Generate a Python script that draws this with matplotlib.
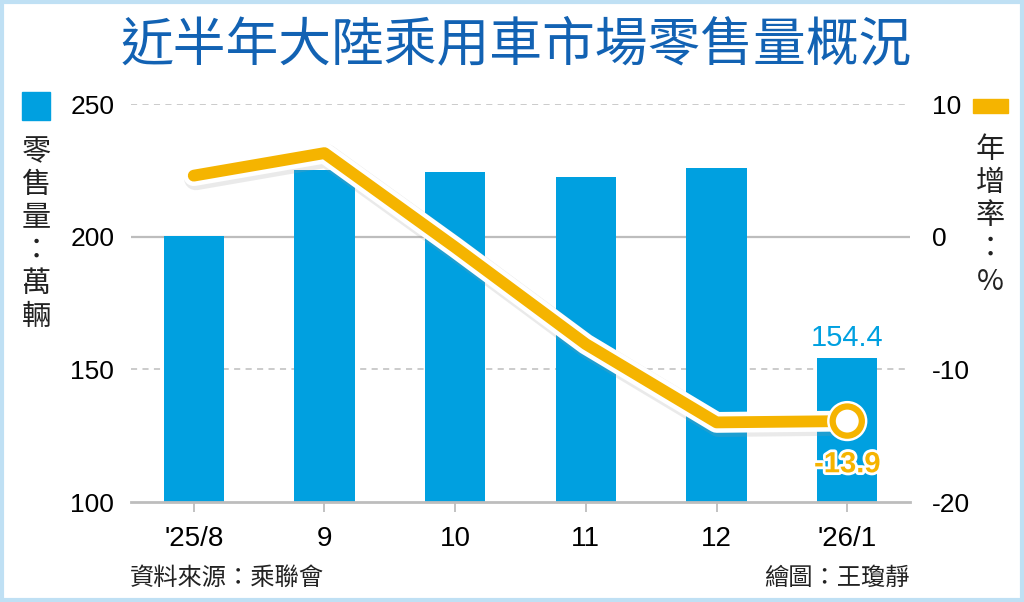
import matplotlib
matplotlib.use('Agg')
from matplotlib import pyplot as plt
from matplotlib import patheffects as pe
from matplotlib.patches import Rectangle

months = ["'25/8", "9", "10", "11", "12", "'26/1"]
retail = [200.1, 225.2, 224.4, 222.6, 225.9, 154.4]   # 萬輛
yoy = [4.6, 6.3, -0.8, -8.1, -14.0, -13.9]            # %
left_ticks = [100, 150, 200, 250]
right_ticks = [-20, -10, 0, 10]

BAR = '#00A0E0'
LINE = '#F5B400'
TITLE = '#1262B3'
CJK = ['Noto Sans CJK TC', 'DejaVu Sans']
NUM = ['Liberation Sans', 'DejaVu Sans']

fig = plt.figure(figsize=(10.24, 6.02), dpi=100)
ax = fig.add_axes([131 / 1024, 1 - 502 / 602, 779 / 1024, 398 / 602])
ax2 = ax.twinx()

x = list(range(len(months)))
ax.bar(x, retail, width=0.46, color=BAR, zorder=2)
ax.set_xlim(-0.48, 5.48)
ax.set_ylim(100, 250)
ax2.set_ylim(-20, 10)

# grid: dashed at 150/250, solid at 200
for v in left_ticks[1:]:
    ls = '-' if v == 200 else (0, (4, 3.5))
    ax.axhline(v, color='#BDBDBD', lw=1.6 if v == 200 else 1.1, ls=ls, zorder=1)

for s in ['top', 'left', 'right']:
    ax.spines[s].set_visible(False)
    ax2.spines[s].set_visible(False)
ax2.spines['bottom'].set_visible(False)
ax.spines['bottom'].set_color('#BDBDBD')
ax.spines['bottom'].set_linewidth(2)

ax.set_xticks(x)
ax.set_xticklabels(months, family=NUM, fontsize=20)
ax.tick_params(axis='x', length=7, width=1.3, color='#BDBDBD', pad=10)
ax.set_yticks(left_ticks)
ax.set_yticklabels([str(t) for t in left_ticks], family=NUM, fontsize=19)
ax.tick_params(axis='y', length=0, pad=12)
ax2.set_yticks(right_ticks)
ax2.set_yticklabels([str(t) for t in right_ticks], family=NUM, fontsize=19)
ax2.tick_params(axis='y', length=0, pad=16)

# yoy line with white outline and soft shadow
ax2.plot(x, yoy, color=LINE, lw=8.5, solid_capstyle='round', solid_joinstyle='round',
         zorder=3, clip_on=False,
         path_effects=[pe.SimpleLineShadow(offset=(1.5, -2), shadow_color='#999999', alpha=0.2, linewidth=17),
                       pe.Stroke(linewidth=15, foreground='white'), pe.Normal()])
ax2.plot(x[-1], yoy[-1], 'o', ms=21, mfc='white', mec=LINE, mew=4.5, zorder=4, clip_on=False,
         path_effects=[pe.Stroke(linewidth=8, foreground='white'), pe.Normal()])

ax.text(x[-1], retail[-1] + 2.0, f'{retail[-1]}', color=BAR, fontsize=21, family=NUM,
        ha='center', va='bottom', zorder=5)
ax2.text(x[-1], yoy[-1] - 2.2, f'{yoy[-1]}', color=LINE, fontsize=21, family=NUM,
         fontweight='bold', ha='center', va='top', zorder=5,
         path_effects=[pe.Stroke(linewidth=4, foreground='white'), pe.Normal()])

# title
fig.text(0.504, 1 - 45 / 602, '近半年大陸乘用車市場零售量概況', color=TITLE, fontsize=38,
         family=CJK, fontweight='medium', ha='center', va='center')

# left legend
fig.patches.append(Rectangle((22 / 1024, 1 - 120 / 602), 28 / 1024, 28 / 602,
                             transform=fig.transFigure, color=BAR))
for i, ch in enumerate('零售量：萬輛'):
    fig.text(36 / 1024, 1 - (152 + i * 33) / 602, ch, fontsize=21, family=CJK,
             ha='center', va='center', color='#222222')

# right legend
fig.patches.append(Rectangle((973 / 1024, 1 - 113 / 602), 35 / 1024, 14 / 602,
                             transform=fig.transFigure, color=LINE))
for i, ch in enumerate('年增率：%'):
    fig.text(990 / 1024, 1 - (150 + i * 33) / 602, ch, fontsize=21, family=CJK,
             ha='center', va='center', color='#222222')

# footer
fig.text(130 / 1024, 1 - 578 / 602, '資料來源：乘聯會', fontsize=17.5, family=CJK,
         ha='left', va='center', color='#222222')
fig.text(910 / 1024, 1 - 578 / 602, '繪圖：王瓊靜', fontsize=17.5, family=CJK,
         ha='right', va='center', color='#222222')

# light blue frame
fig.patches.append(Rectangle((0.002, 0.003), 0.996, 0.994, transform=fig.transFigure,
                             fill=False, edgecolor='#BFE0F4', lw=3))

fig.savefig('out.png', dpi=100)
